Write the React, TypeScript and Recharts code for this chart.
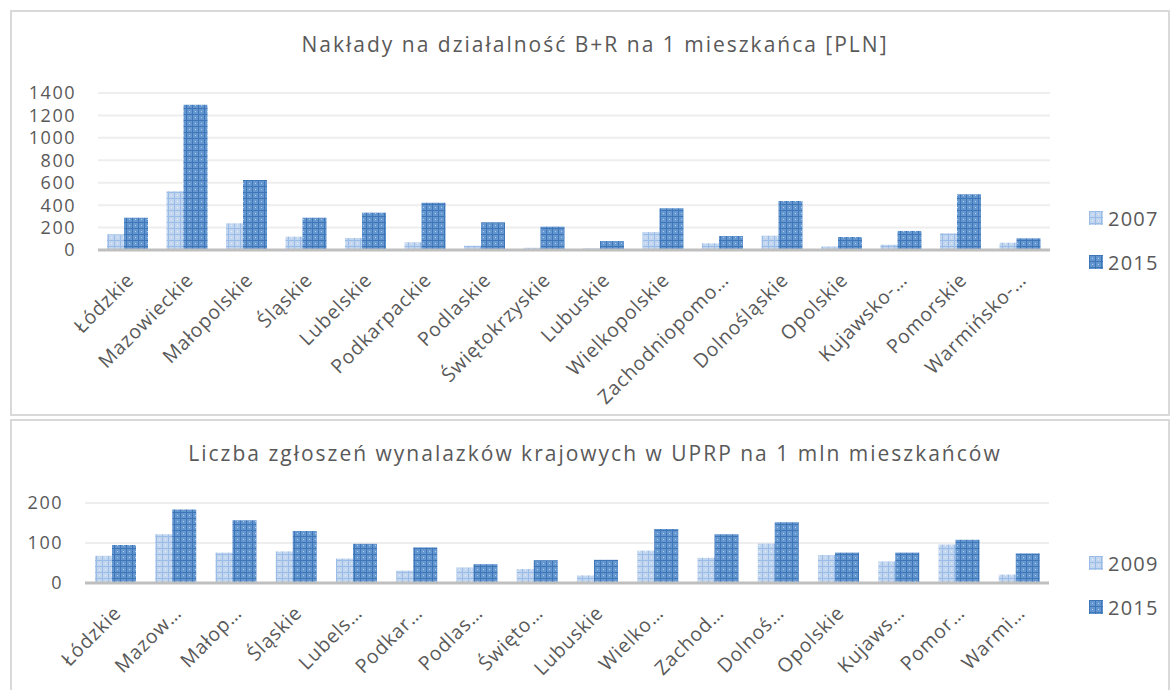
import React from 'react';
import { BarChart, Bar, XAxis, YAxis, CartesianGrid, Legend } from 'recharts';

// Województwa (pełne nazwy) i skrócone etykiety osi
const regions = [
  'Łódzkie', 'Mazowieckie', 'Małopolskie', 'Śląskie', 'Lubelskie', 'Podkarpackie',
  'Podlaskie', 'Świętokrzyskie', 'Lubuskie', 'Wielkopolskie', 'Zachodniopomorskie',
  'Dolnośląskie', 'Opolskie', 'Kujawsko-pomorskie', 'Pomorskie', 'Warmińsko-mazurskie',
];
const topLabels = [
  'Łódzkie', 'Mazowieckie', 'Małopolskie', 'Śląskie', 'Lubelskie', 'Podkarpackie',
  'Podlaskie', 'Świętokrzyskie', 'Lubuskie', 'Wielkopolskie', 'Zachodniopomo…',
  'Dolnośląskie', 'Opolskie', 'Kujawsko-…', 'Pomorskie', 'Warmińsko-…',
];
const bottomLabels = [
  'Łódzkie', 'Mazow…', 'Małop…', 'Śląskie', 'Lubels…', 'Podkar…', 'Podlas…', 'Święto…',
  'Lubuskie', 'Wielko…', 'Zachod…', 'Dolnoś…', 'Opolskie', 'Kujaws…', 'Pomor…', 'Warmi…',
];

// Nakłady na B+R na 1 mieszkańca [PLN]
const rd2007 = [140, 525, 238, 119, 107, 69, 38, 20, 15, 160, 60, 128, 30, 47, 149, 65];
const rd2015 = [288, 1295, 624, 288, 333, 422, 247, 208, 80, 372, 125, 437, 116, 170, 497, 104];
const rdTicks = [0, 200, 400, 600, 800, 1000, 1200, 1400];

// Zgłoszenia wynalazków na 1 mln mieszkańców
const pat2009 = [68, 122, 76, 79, 61, 31, 39, 35, 19, 81, 63, 99, 70, 54, 96, 21];
const pat2015 = [95, 184, 157, 130, 98, 89, 47, 57, 58, 135, 122, 152, 76, 76, 108, 74];
const patTicks = [0, 100, 200];

const topData = regions.map((r, i) => ({ region: r, a: rd2007[i], b: rd2015[i] }));
const bottomData = regions.map((r, i) => ({ region: r, a: pat2009[i], b: pat2015[i] }));

const FONT = '"Open Sans", sans-serif';
const TEXT = '#595959';

const makeTick = (labels: string[]) => (props: any) => {
  const { x, y, payload, index } = props;
  const ax = x + 2;
  const ay = y + 18;
  return (
    <text
      x={ax}
      y={ay}
      textAnchor="end"
      fill={TEXT}
      fontSize={19.5}
      fontFamily={FONT}
      letterSpacing={0.8}
      dominantBaseline="central"
      transform={`rotate(-45 ${ax} ${ay})`}
    >
      {labels[index] ?? payload.value}
    </text>
  );
};

const legendContent = (years: string[]) => () => (
  <div style={{ fontFamily: FONT, color: TEXT, fontSize: 20 }}>
    {years.map((y, i) => (
      <div key={y} style={{ display: 'flex', alignItems: 'center', height: 44 }}>
        <svg width={14} height={14} style={{ marginRight: 5 }}>
          <rect width={14} height={14} fill={i === 0 ? 'url(#pLight)' : 'url(#pDark)'} />
        </svg>
        <span style={{ letterSpacing: 1.2 }}>{y}</span>
      </div>
    ))}
  </div>
);

const titleStyle: React.CSSProperties = {
  position: 'absolute', left: 0, width: 1190, textAlign: 'center',
  fontFamily: FONT, fontSize: 21, color: TEXT, letterSpacing: 2,
};

const yTick = { fill: TEXT, fontSize: 18, fontFamily: FONT, letterSpacing: 1.5 };

export default function App() {
  return (
    <div style={{ position: 'absolute', left: 0, top: 0, width: 1172, height: 690, background: '#fff', overflow: 'hidden' }}>
      <div style={{ position: 'absolute', left: 10, top: 10, width: 1160, height: 406, border: '2px solid #d9d9d9', boxSizing: 'border-box' }} />
      <div style={{ position: 'absolute', left: 10, top: 419, width: 1160, height: 300, border: '2px solid #d9d9d9', boxSizing: 'border-box' }} />

      <div style={{ ...titleStyle, top: 30 }}>Nakłady na działalność B+R na 1 mieszkańca [PLN]</div>
      <div style={{ ...titleStyle, top: 439 }}>Liczba zgłoszeń wynalazków krajowych w UPRP na 1 mln mieszkańców</div>

      <div style={{ position: 'absolute', left: 0, top: 0 }}>
        <BarChart width={1172} height={416} data={topData} margin={{ top: 93, right: 42, bottom: 136, left: 0 }} barSize={24} barGap={-7}>
          <defs>
            <pattern id="pLight" width={6} height={6} patternUnits="userSpaceOnUse">
              <rect width={6} height={6} fill="#c3d6f0" />
              <rect width={6} height={1} fill="#9bbce6" />
              <rect width={1} height={6} fill="#9bbce6" />
              <rect x={3} y={3} width={1} height={1} fill="#e6eefa" />
            </pattern>
            <pattern id="pDark" width={6} height={6} patternUnits="userSpaceOnUse">
              <rect width={6} height={6} fill="#6496d0" />
              <rect width={6} height={1} fill="#3f76b8" />
              <rect width={1} height={6} fill="#3f76b8" />
              <rect x={3} y={3} width={1} height={1} fill="#b3cdec" />
            </pattern>
          </defs>
          <CartesianGrid vertical={false} stroke="#eeeeee" strokeWidth={2} />
          <XAxis
            dataKey="region"
            interval={0}
            tickLine={false}
            axisLine={{ stroke: '#bfbfbf', strokeWidth: 3 }}
            tick={makeTick(topLabels)}
          />
          <YAxis
            width={98}
            domain={[0, 1400]}
            ticks={rdTicks}
            interval={0}
            tickLine={false}
            axisLine={false}
            tickSize={0}
            tickMargin={22}
            tick={yTick}
          />
          <Legend
            verticalAlign="middle"
            align="right"
            layout="vertical"
            content={legendContent(['2007', '2015'])}
            wrapperStyle={{ position: 'absolute', left: 1089, top: 196, width: 80 }}
          />
          <Bar dataKey="a" name="2007" fill="url(#pLight)" isAnimationActive={false} />
          <Bar dataKey="b" name="2015" fill="url(#pDark)" isAnimationActive={false} />
        </BarChart>
      </div>

      <div style={{ position: 'absolute', left: 0, top: 416 }}>
        <BarChart width={1172} height={274} data={bottomData} margin={{ top: 87, right: 43, bottom: 77, left: 0 }} barSize={24} barGap={-7}>
          <CartesianGrid vertical={false} stroke="#eeeeee" strokeWidth={2} />
          <XAxis
            dataKey="region"
            interval={0}
            tickLine={false}
            axisLine={{ stroke: '#bfbfbf', strokeWidth: 3 }}
            tick={makeTick(bottomLabels)}
          />
          <YAxis
            width={85}
            domain={[0, 200]}
            ticks={patTicks}
            interval={0}
            tickLine={false}
            axisLine={false}
            tickSize={0}
            tickMargin={22}
            tick={yTick}
          />
          <Legend
            verticalAlign="middle"
            align="right"
            layout="vertical"
            content={legendContent(['2009', '2015'])}
            wrapperStyle={{ position: 'absolute', left: 1089, top: 125, width: 80 }}
          />
          <Bar dataKey="a" name="2009" fill="url(#pLight)" isAnimationActive={false} />
          <Bar dataKey="b" name="2015" fill="url(#pDark)" isAnimationActive={false} />
        </BarChart>
      </div>
    </div>
  );
}
